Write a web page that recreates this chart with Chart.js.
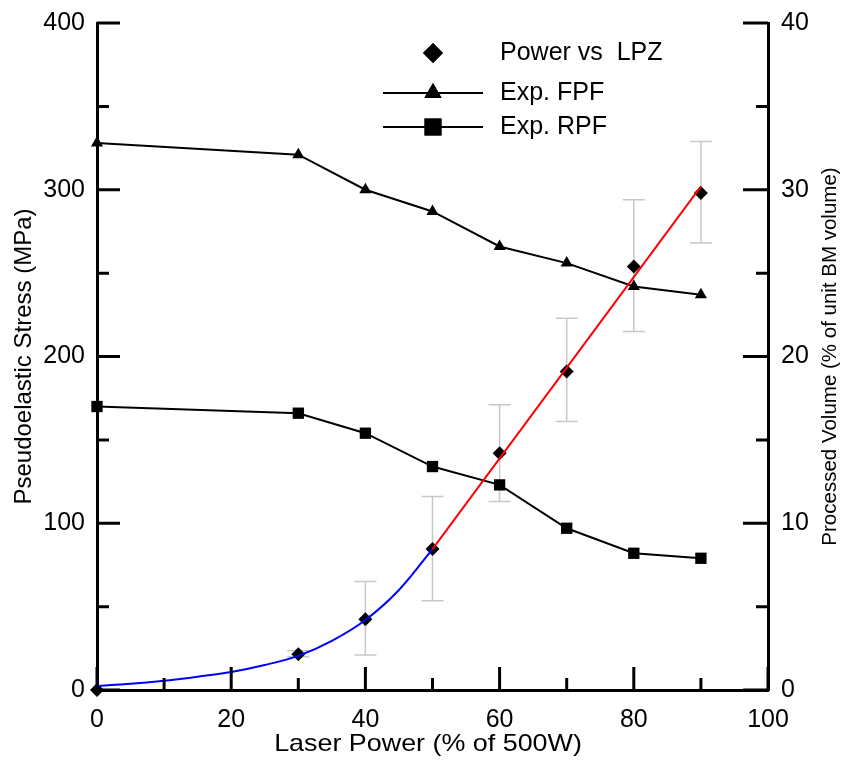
<!DOCTYPE html>
<html>
<head>
<meta charset="utf-8">
<script src="https://cdn.jsdelivr.net/npm/chart.js@4.4.1/dist/chart.umd.min.js"></script>
<style>
  html, body { margin: 0; padding: 0; background: #fff; }
  #wrap { width: 847px; height: 761px; }
</style>
</head>
<body>
<div id="wrap"><canvas id="chart"></canvas></div>
<script>
// Laser power levels (% of 500W)
const power = [0, 30, 40, 50, 60, 70, 80, 90];

// Left axis - pseudoelastic stress (MPa)
const fpfStress = [328, 321, 300, 287, 266, 256, 242, 237];
const rpfStress = [170, 166, 154, 134, 123, 97, 82, 79];

// Right axis - processed volume (% of unit BM volume)
const lpzVolume = [0, 2.15, 4.25, 8.45, 14.2, 19.1, 25.4, 29.8];
const lpzErrLow = [0, 2.0, 2.1, 5.35, 11.3, 16.1, 21.5, 26.8];
const lpzErrHigh = [0, 2.35, 6.5, 11.6, 17.1, 22.3, 29.4, 32.9];

// fitted curves
const blueFitX = [0, 5, 10, 15, 20, 25, 30, 35, 40, 45, 50];
const blueFitY = [0.24, 0.37, 0.56, 0.8, 1.08, 1.5, 2.05, 2.95, 4.2, 6.0, 8.45];
const redFitX = [50, 90];
const redFitY = [8.45, 30.2];

// tick labels
const xTicks = [0, 20, 40, 60, 80, 100];
const leftTicks = [0, 100, 200, 300, 400];
const rightTicks = [0, 10, 20, 30, 40];

function pts(xs, ys) {
    return xs.map((x, i) => ({ x: x, y: ys[i] }));
}

const FONT = "'Liberation Sans', Arial, sans-serif";

// gray error bars behind the diamonds
const errorBars = {
    id: 'errorBars',
    beforeDatasetsDraw(chart) {
        const ctx = chart.ctx;
        const xs = chart.scales.x, ys = chart.scales.y1;
        ctx.save();
        ctx.strokeStyle = '#c8c8c8';
        ctx.lineWidth = 1.5;
        power.forEach((p, i) => {
            if (lpzErrHigh[i] === lpzErrLow[i]) return;
            const px = xs.getPixelForValue(p);
            const top = ys.getPixelForValue(lpzErrHigh[i]);
            const bot = ys.getPixelForValue(lpzErrLow[i]);
            ctx.beginPath();
            ctx.moveTo(px, top); ctx.lineTo(px, bot);
            ctx.moveTo(px - 11, top); ctx.lineTo(px + 11, top);
            ctx.moveTo(px - 11, bot); ctx.lineTo(px + 11, bot);
            ctx.stroke();
        });
        ctx.restore();
    }
};

// inward major/minor ticks, axis titles and the legend inside the plot
const decorations = {
    id: 'decorations',
    afterDraw(chart) {
        const ctx = chart.ctx;
        const xs = chart.scales.x, yl = chart.scales.y, yr = chart.scales.y1;
        const area = chart.chartArea;
        const midY = (area.top + area.bottom) / 2;
        ctx.save();
        ctx.strokeStyle = '#000';
        ctx.lineWidth = 3;
        ctx.beginPath();
        for (let v = 0; v <= 400; v += 50) {
            const py = yl.getPixelForValue(v);
            const len = v % 100 === 0 ? 23 : 12;
            ctx.moveTo(area.left, py); ctx.lineTo(area.left + len, py);
        }
        for (let v = 0; v <= 40; v += 5) {
            const py = yr.getPixelForValue(v);
            const len = v % 10 === 0 ? 25 : 12;
            ctx.moveTo(area.right, py); ctx.lineTo(area.right - len, py);
        }
        for (let v = 0; v <= 100; v += 10) {
            const px = xs.getPixelForValue(v);
            const len = v % 20 === 0 ? 23 : 12;
            ctx.moveTo(px, area.bottom); ctx.lineTo(px, area.bottom - len);
        }
        ctx.stroke();

        // axis titles
        ctx.fillStyle = '#000';
        ctx.textAlign = 'center';
        ctx.textBaseline = 'middle';

        ctx.save();
        ctx.translate(428, 744);
        ctx.scale(1.12, 1);
        ctx.font = '24px ' + FONT;
        ctx.fillText('Laser Power (% of 500W)', 0, 0);
        ctx.restore();

        ctx.save();
        ctx.translate(24, midY);
        ctx.rotate(-Math.PI / 2);
        ctx.font = '24px ' + FONT;
        ctx.fillText('Pseudoelastic Stress (MPa)', 0, 0);
        ctx.restore();

        ctx.save();
        ctx.translate(830, midY);
        ctx.rotate(-Math.PI / 2);
        ctx.font = '20.5px ' + FONT;
        ctx.fillText('Processed Volume (% of unit BM volume)', 0, 0);
        ctx.restore();

        // legend
        ctx.textAlign = 'left';
        ctx.font = '25px ' + FONT;
        const mx = 433, tx = 500;
        const rows = [
            { y: 53, label: 'Power vs  LPZ', style: 'rectRot', r: 10, line: false },
            { y: 93, label: 'Exp. FPF', style: 'triangle', r: 10, line: true },
            { y: 127, label: 'Exp. RPF', style: 'rect', r: 12, line: true }
        ];
        rows.forEach(row => {
            if (row.line) {
                ctx.lineWidth = 2;
                ctx.beginPath();
                ctx.moveTo(383, row.y); ctx.lineTo(483, row.y);
                ctx.stroke();
            }
            Chart.helpers.drawPoint(ctx, { pointStyle: row.style, radius: row.r, borderWidth: 0 }, mx, row.y);
            ctx.fill();
            ctx.fillText(row.label, tx, row.y);
        });
        ctx.restore();
    }
};

function fixWidth(w) {
    return function(scale) {
        scale.width = w;
        scale.paddingTop = 0;
        scale.paddingBottom = 0;
    };
}

const ctx = document.getElementById('chart');
new Chart(ctx, {
    type: 'line',
    data: {
        datasets: [
            {
                label: 'fit low',
                data: pts(blueFitX, blueFitY),
                yAxisID: 'y1',
                borderColor: '#0000ff',
                borderWidth: 2,
                pointRadius: 0,
                cubicInterpolationMode: 'monotone',
                fill: false,
                clip: false
            },
            {
                label: 'fit high',
                data: pts(redFitX, redFitY),
                yAxisID: 'y1',
                borderColor: '#ff0000',
                borderWidth: 2,
                pointRadius: 0,
                fill: false,
                clip: false
            },
            {
                label: 'Power vs  LPZ',
                data: pts(power, lpzVolume),
                yAxisID: 'y1',
                showLine: false,
                pointStyle: 'rectRot',
                pointRadius: 7,
                pointBackgroundColor: '#000',
                pointBorderColor: '#000',
                pointBorderWidth: 0,
                clip: false
            },
            {
                label: 'Exp. FPF',
                data: pts(power, fpfStress),
                yAxisID: 'y',
                borderColor: '#000',
                borderWidth: 2,
                pointStyle: 'triangle',
                pointRadius: 7,
                pointBackgroundColor: '#000',
                pointBorderColor: '#000',
                pointBorderWidth: 0,
                tension: 0,
                clip: false
            },
            {
                label: 'Exp. RPF',
                data: pts(power, rpfStress),
                yAxisID: 'y',
                borderColor: '#000',
                borderWidth: 2,
                pointStyle: 'rect',
                pointRadius: 8,
                pointBackgroundColor: '#000',
                pointBorderColor: '#000',
                pointBorderWidth: 0,
                tension: 0,
                clip: false
            }
        ]
    },
    options: {
        responsive: true,
        maintainAspectRatio: false,
        animation: false,
        events: [],
        layout: { padding: { top: 23, left: 0, right: 0, bottom: 0 } },
        plugins: {
            legend: { display: false },
            tooltip: { enabled: false }
        },
        scales: {
            x: {
                type: 'linear',
                min: 0,
                max: 100,
                afterBuildTicks(scale) { scale.ticks = xTicks.map(v => ({ value: v })); },
                afterFit(scale) {
                    scale.height = 71;
                    scale.paddingLeft = 0;
                    scale.paddingRight = 0;
                },
                grid: { display: false, drawTicks: false },
                border: { display: true, color: '#000', width: 3 },
                ticks: { color: '#000', font: { family: FONT, size: 25 }, padding: 15 }
            },
            y: {
                position: 'left',
                min: 0,
                max: 400,
                afterBuildTicks(scale) { scale.ticks = leftTicks.map(v => ({ value: v })); },
                afterFit: fixWidth(97),
                grid: { display: false, drawTicks: false },
                border: { display: true, color: '#000', width: 3 },
                ticks: { color: '#000', font: { family: FONT, size: 25 }, padding: 12 }
            },
            y1: {
                position: 'right',
                min: 0,
                max: 40,
                afterBuildTicks(scale) { scale.ticks = rightTicks.map(v => ({ value: v })); },
                afterFit: fixWidth(79),
                grid: { display: false, drawTicks: false },
                border: { display: true, color: '#000', width: 3 },
                ticks: { color: '#000', font: { family: FONT, size: 25 }, padding: 13 }
            }
        }
    },
    plugins: [errorBars, decorations]
});
</script>
</body>
</html>
